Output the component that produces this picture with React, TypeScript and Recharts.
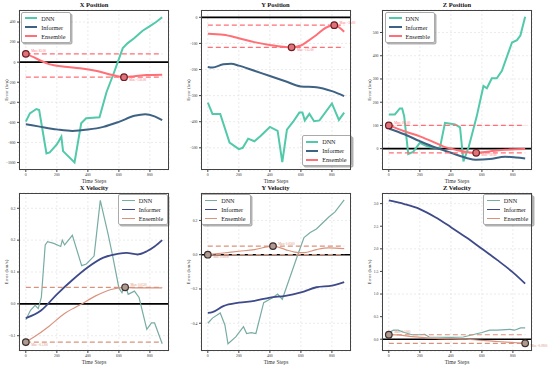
import React from "react";
import {
  LineChart,
  Line,
  XAxis,
  YAxis,
  CartesianGrid,
  ReferenceLine,
  ReferenceDot,
  Legend,
} from "recharts";

const FONT = '"Liberation Serif", "DejaVu Serif", serif';
const X_DOMAIN = [-44, 923];
const X_TICKS = [0, 200, 400, 600, 800];
const SERIES_ORDER = ["DNN", "Informer", "Ensemble"];

// X position (km)
const xPosDnnT = [0, 26, 68, 86, 133, 154, 200, 229, 240, 314, 357, 389, 475, 520, 571, 625, 657, 700, 753, 800, 840, 879];
const xPosDnnV = [-593, -510, -467, -477, -910, -900, -820, -743, -887, -1000, -610, -560, -550, -300, -93, 140, 190, 240, 313, 360, 400, 447];
const xPosInfT = [0, 80, 200, 300, 400, 500, 600, 700, 770, 830, 879];
const xPosInfV = [-620, -640, -670, -685, -672, -645, -595, -535, -518, -540, -578];
const xPosEnsT = [0, 50, 100, 150, 250, 350, 450, 550, 633, 700, 780, 879];
const xPosEnsV = [83, 50, 12, -20, -45, -60, -85, -125, -150, -140, -128, -125];

// Y position (km)
const yPosDnnT = [0, 30, 80, 140, 200, 225, 260, 300, 340, 400, 450, 480, 510, 550, 590, 610, 625, 655, 685, 720, 800, 845, 879];
const yPosDnnV = [-327, -370, -370, -480, -505, -500, -465, -475, -455, -420, -435, -555, -430, -400, -365, -365, -395, -370, -398, -395, -330, -393, -365];
const yPosInfT = [0, 30, 100, 150, 200, 300, 400, 500, 600, 700, 800, 879];
const yPosInfV = [-190, -192, -180, -178, -185, -205, -225, -245, -265, -268, -283, -302];
const yPosEnsT = [0, 100, 200, 300, 400, 540, 600, 640, 700, 760, 815, 879];
const yPosEnsV = [-63, -67, -80, -95, -106, -115, -108, -93, -68, -40, -30, -55];

// Z position (km)
const zPosDnnT = [0, 39, 71, 86, 99, 125, 157, 200, 233, 265, 308, 330, 362, 427, 459, 481, 513, 539, 567, 610, 632, 664, 696, 729, 794, 826, 848, 879];
const zPosDnnV = [147, 147, 173, 173, 140, -23, -14, 25, 14, 6, 3, 5, 111, 104, 92, -55, 3, 68, 140, 270, 260, 303, 303, 335, 457, 467, 487, 568];
const zPosInfT = [0, 100, 200, 300, 340, 400, 500, 560, 650, 750, 820, 879];
const zPosInfV = [87, 62, 32, 5, -4, -18, -40, -48, -45, -35, -38, -42];
const zPosEnsT = [0, 100, 200, 300, 350, 400, 450, 563, 650, 750, 879];
const zPosEnsV = [100, 75, 53, 25, 10, 0, -8, -18, -12, -5, -2];

// X velocity (km/s)
const xVelDnnT = [0, 30, 60, 80, 100, 125, 140, 180, 225, 235, 250, 300, 360, 390, 440, 480, 530, 560, 600, 620, 640, 660, 700, 730, 780, 810, 830, 879];
const xVelDnnV = [-0.05, -0.02, -0.005, -0.015, 0.02, 0.185, 0.195, 0.19, 0.18, 0.2, 0.185, 0.215, 0.12, 0.125, 0.15, 0.325, 0.22, 0.15, 0.05, 0.035, 0.06, 0.03, 0.04, 0.02, -0.08, -0.06, -0.06, -0.125];
const xVelInfT = [0, 100, 200, 300, 400, 500, 600, 650, 720, 780, 830, 879];
const xVelInfV = [-0.045, -0.02, 0.03, 0.075, 0.115, 0.145, 0.158, 0.16, 0.155, 0.165, 0.18, 0.2];
const xVelEnsT = [0, 50, 150, 250, 350, 450, 550, 640, 700, 800, 879];
const xVelEnsV = [-0.12, -0.105, -0.07, -0.03, -0.003, 0.025, 0.045, 0.052, 0.05, 0.05, 0.05];

// Y velocity (km/s)
const yVelDnnT = [0, 30, 80, 110, 130, 180, 230, 250, 280, 310, 360, 420, 450, 480, 530, 580, 620, 660, 700, 780, 820, 879];
const yVelDnnV = [-0.4, -0.37, -0.34, -0.41, -0.52, -0.48, -0.42, -0.46, -0.455, -0.46, -0.28, -0.25, -0.23, -0.26, -0.13, 0.0, 0.1, 0.13, 0.15, 0.22, 0.25, 0.32];
const yVelInfT = [0, 30, 100, 200, 300, 400, 500, 600, 700, 800, 879];
const yVelInfV = [-0.34, -0.335, -0.3, -0.28, -0.27, -0.25, -0.24, -0.22, -0.19, -0.18, -0.16];
const yVelEnsT = [0, 100, 200, 300, 420, 500, 560, 620, 700, 780, 879];
const yVelEnsV = [0.0, 0.01, 0.02, 0.03, 0.05, 0.03, 0.015, 0.012, 0.03, 0.04, 0.035];

// Z velocity (km/s)
const zVelDnnT = [0, 30, 60, 100, 150, 200, 230, 260, 400, 480, 540, 600, 650, 700, 780, 810, 850, 879];
const zVelDnnV = [0.15, 0.2, 0.2, 0.15, 0.1, 0.1, 0.11, 0.05, 0.04, 0.05, 0.1, 0.15, 0.2, 0.2, 0.22, 0.2, 0.25, 0.25];
const zVelInfT = [0, 100, 200, 300, 400, 500, 600, 700, 800, 879];
const zVelInfV = [3.07, 2.99, 2.88, 2.7, 2.48, 2.25, 2.0, 1.75, 1.48, 1.23];
const zVelEnsT = [0, 50, 150, 300, 500, 700, 879];
const zVelEnsV = [0.1, 0.095, 0.06, 0.02, 0.0, -0.05, -0.09];

const pts = (t: number[], v: number[]) => t.map((s, i) => ({ t: s, v: v[i] }));

const rowOne = {
  dnn: "#52c9aa",
  informer: "#3e6283",
  ensemble: "#ff6f75",
  marker: "#e0737a",
  ring: "#6b1f25",
  widths: [2, 2, 2],
  zero: 1.8,
};
const rowTwo = {
  dnn: "#78aca4",
  informer: "#3e4a89",
  ensemble: "#d9937d",
  marker: "#b09a90",
  ring: "#3b2f2f",
  widths: [1.2, 1.8, 1.2],
  zero: 1.6,
};

const panels = [
  {
    title: "X Position", fl: 19, ft: 10, fh: 160, yLabel: "Error (km)",
    yDomain: [-1075, 520], yTicks: [-1000, -800, -600, -400, -200, 0, 200, 400], digits: 0, note: 2,
    dnn: pts(xPosDnnT, xPosDnnV), informer: pts(xPosInfT, xPosInfV), ensemble: pts(xPosEnsT, xPosEnsV),
    style: rowOne, legend: [21.7, 11.7],
  },
  {
    title: "Y Position", fl: 200.5, ft: 10, fh: 160, yLabel: "Error (km)",
    yDomain: [-585, 28], yTicks: [-500, -400, -300, -200, -100, 0], digits: 0, note: 2,
    dnn: pts(yPosDnnT, yPosDnnV), informer: pts(yPosInfT, yPosInfV), ensemble: pts(yPosEnsT, yPosEnsV),
    style: rowOne, legend: [121.2, 135],
  },
  {
    title: "Z Position", fl: 382, ft: 10, fh: 160, yLabel: "Error (km)",
    yDomain: [-92, 597], yTicks: [0, 100, 200, 300, 400, 500], digits: 0, note: 2,
    dnn: pts(zPosDnnT, zPosDnnV), informer: pts(zPosInfT, zPosInfV), ensemble: pts(zPosEnsT, zPosEnsV),
    style: rowOne, legend: [23, 11.7],
  },
  {
    title: "X Velocity", fl: 19, ft: 193, fh: 158, yLabel: "Error (km/s)",
    yDomain: [-0.148, 0.348], yTicks: [-0.1, 0, 0.1, 0.2, 0.3], digits: 1, note: 4,
    dnn: pts(xVelDnnT, xVelDnnV), informer: pts(xVelInfT, xVelInfV), ensemble: pts(xVelEnsT, xVelEnsV),
    style: rowTwo, legend: [119.3, 11],
  },
  {
    title: "Y Velocity", fl: 200.5, ft: 193, fh: 158, yLabel: "Error (km/s)",
    yDomain: [-0.562, 0.36], yTicks: [-0.4, -0.2, 0, 0.2], digits: 1, note: 4,
    dnn: pts(yVelDnnT, yVelDnnV), informer: pts(yVelInfT, yVelInfV), ensemble: pts(yVelEnsT, yVelEnsV),
    style: rowTwo, legend: [20.2, 11],
  },
  {
    title: "Z Velocity", fl: 382, ft: 193, fh: 158, yLabel: "Error (km/s)",
    yDomain: [-0.26, 3.235], yTicks: [0, 0.5, 1, 1.5, 2, 2.5, 3], digits: 1, note: 4,
    dnn: pts(zVelDnnT, zVelDnnV), informer: pts(zVelInfT, zVelInfV), ensemble: pts(zVelEnsT, zVelEnsV),
    style: rowTwo, legend: [121.3, 11],
  },
];

const signed = (v: number, digits: number) => {
  const s = Math.abs(v).toFixed(digits);
  return v < 0 && Number(s) !== 0 ? "\u2212" + s : s;
};

const legendBox = (lw: number) => (props: any) => {
  const items = [...(props.payload || [])].sort(
    (a: any, b: any) => SERIES_ORDER.indexOf(a.value) - SERIES_ORDER.indexOf(b.value)
  );
  return (
    <div
      style={{
        background: "rgba(255,255,255,0.92)",
        border: "0.8px solid #aaa",
        borderRadius: 2,
        boxShadow: "1.5px 1.5px 0 rgba(0,0,0,0.3)",
        padding: "1px 4px 1px 3px",
        fontFamily: FONT,
        fontSize: 6.2,
        lineHeight: "9px",
        color: "#222",
      }}
    >
      {items.map((p: any) => (
        <div key={p.value} style={{ display: "flex", alignItems: "center", whiteSpace: "nowrap" }}>
          <span
            style={{
              display: "inline-block",
              width: 12.5,
              height: 0,
              borderTop: `${lw}px solid ${p.color}`,
              marginRight: 4,
            }}
          />
          {p.value}
        </div>
      ))}
    </div>
  );
};

const noteLabel = (text: string, color: string, dy: number) => (lp: any) => {
  const vb = lp.viewBox || { x: 0, y: 0, width: 0, height: 0 };
  return (
    <text
      x={vb.x + vb.width + 2}
      y={vb.y + vb.height / 2 + dy}
      fontSize={3.2}
      fontFamily={FONT}
      fill={color}
    >
      {text}
    </text>
  );
};

function Panel({ p }: { p: any }) {
  const s = p.style;
  const ens = p.ensemble;
  const maxPt = ens.reduce((a: any, b: any) => (b.v > a.v ? b : a));
  const minPt = ens.reduce((a: any, b: any) => (b.v < a.v ? b : a));
  const t0 = ens[0].t;
  const t1 = ens[ens.length - 1].t;
  const W = 20 + 150 + 22;
  const H = 10 + p.fh + 18;
  const tickStyle = { fontSize: 3.8, fill: "#333", fontFamily: FONT };

  return (
    <div style={{ position: "absolute", left: p.fl - 20, top: p.ft - 10, width: W, height: H }}>
      <div
        style={{
          position: "absolute",
          left: 20,
          top: 0.5,
          width: 150,
          textAlign: "center",
          fontFamily: FONT,
          fontWeight: "bold",
          fontSize: 6.5,
          lineHeight: "8px",
          color: "#111",
        }}
      >
        {p.title}
      </div>
      <LineChart width={W} height={H} margin={{ top: 10, right: 22, left: 0, bottom: 0 }}>
        <CartesianGrid stroke="#dedede" strokeDasharray="2 2" strokeWidth={0.6} />
        <XAxis
          type="number"
          dataKey="t"
          domain={X_DOMAIN}
          ticks={X_TICKS}
          allowDataOverflow
          height={18}
          axisLine={false}
          tickSize={2}
          tickMargin={1.5}
          tickLine={{ stroke: "#444" }}
          tick={tickStyle}
          label={{
            value: "Time Steps",
            position: "insideBottom",
            offset: 5,
            style: { fontSize: 5.5, fontFamily: FONT, fill: "#333", textAnchor: "middle" },
          }}
        />
        <YAxis
          type="number"
          domain={p.yDomain}
          ticks={p.yTicks}
          allowDataOverflow
          width={20}
          axisLine={false}
          tickSize={2}
          tickMargin={1.5}
          tickLine={{ stroke: "#444" }}
          tick={tickStyle}
          tickFormatter={(v: number) => signed(v, p.digits)}
          label={{
            value: p.yLabel,
            angle: -90,
            position: "insideLeft",
            offset: 7,
            style: { fontSize: 5, fontFamily: FONT, fill: "#333", textAnchor: "middle" },
          }}
        />
        <ReferenceLine y={0} stroke="#000" strokeWidth={s.zero} />
        <Line data={p.dnn} dataKey="v" name="DNN" type="linear" stroke={s.dnn} strokeWidth={s.widths[0]} dot={false} isAnimationActive={false} />
        <Line data={p.informer} dataKey="v" name="Informer" type="monotone" stroke={s.informer} strokeWidth={s.widths[1]} dot={false} isAnimationActive={false} />
        <Line data={p.ensemble} dataKey="v" name="Ensemble" type="monotone" stroke={s.ensemble} strokeWidth={s.widths[2]} dot={false} isAnimationActive={false} />
        <ReferenceLine
          segment={[{ x: t0, y: maxPt.v }, { x: t1, y: maxPt.v }]}
          stroke={s.ensemble}
          strokeDasharray="5 3"
          strokeWidth={1.2}
        />
        <ReferenceLine
          segment={[{ x: t0, y: minPt.v }, { x: t1, y: minPt.v }]}
          stroke={s.ensemble}
          strokeDasharray="5 3"
          strokeWidth={1.2}
        />
        <ReferenceDot
          x={maxPt.t}
          y={maxPt.v}
          r={3.3}
          fill={s.marker}
          stroke={s.ring}
          strokeWidth={1.2}
          label={noteLabel(`Max: ${maxPt.v.toFixed(p.note)}`, s.ensemble, -1.5)}
        />
        <ReferenceDot
          x={minPt.t}
          y={minPt.v}
          r={3.3}
          fill={s.marker}
          stroke={s.ring}
          strokeWidth={1.2}
          label={noteLabel(`Min: ${minPt.v.toFixed(p.note)}`, s.ensemble, 3.5)}
        />
        <Legend
          layout="vertical"
          align="center"
          verticalAlign="middle"
          content={legendBox(s.widths[1])}
          wrapperStyle={{ left: p.legend[0], top: p.legend[1], width: "auto" }}
        />
      </LineChart>
      <div
        style={{
          position: "absolute",
          left: 20,
          top: 10,
          width: 150,
          height: p.fh,
          border: "0.8px solid #444",
          boxSizing: "border-box",
          pointerEvents: "none",
        }}
      />
    </div>
  );
}

export default function App() {
  return (
    <div
      style={{
        position: "absolute",
        left: 0,
        top: 0,
        width: 550,
        height: 367,
        background: "#fff",
        overflow: "hidden",
      }}
    >
      {panels.map((p) => (
        <Panel key={p.title} p={p} />
      ))}
    </div>
  );
}
